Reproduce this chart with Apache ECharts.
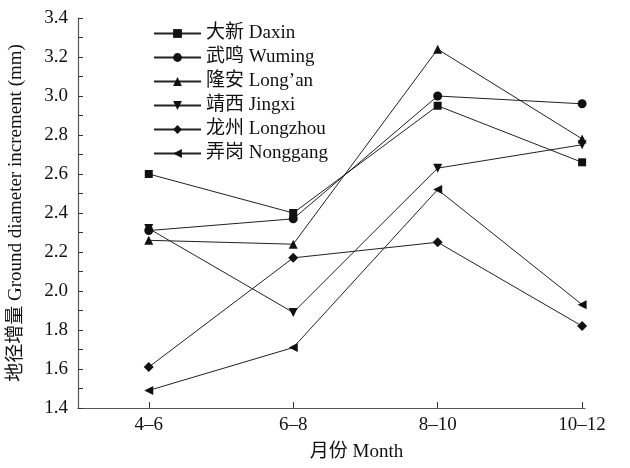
<!DOCTYPE html>
<html><head><meta charset="utf-8">
<script src="https://cdn.jsdelivr.net/npm/echarts@6/dist/echarts.min.js"></script>
<style>html,body{margin:0;padding:0;background:#fff}#c{width:630px;height:468px}</style>
</head><body><div id="c"></div>
<script>
const months = ['4–6', '6–8', '8–10', '10–12'];
const seriesNames = ['大新 Daxin', '武鸣 Wuming', '隆安 Long’an', '靖西 Jingxi', '龙州 Longzhou', '弄岗 Nonggang'];
const daxin = [2.60, 2.40, 2.95, 2.66];
const wuming = [2.31, 2.37, 3.00, 2.96];
const longan = [2.26, 2.24, 3.24, 2.78];
const jingxi = [2.32, 1.89, 2.63, 2.75];
const longzhou = [1.61, 2.17, 2.25, 1.82];
const nonggang = [1.49, 1.71, 2.52, 1.93];
const yTicks = [1.4, 1.6, 1.8, 2.0, 2.2, 2.4, 2.6, 2.8, 3.0, 3.2, 3.4];

const values = [daxin, wuming, longan, jingxi, longzhou, nonggang];
const symbols = ['rect', 'circle', 'triangle', 'triangle', 'diamond', 'triangle'];
const rotates = [0, 0, 0, 180, 0, 90];
const sizes = [8, 9, 9, 9, 10, 9];
const FONT = '"Liberation Serif", "Times New Roman", "Noto Sans CJK SC", serif';

const chart = echarts.init(document.getElementById('c'), null, {renderer: 'canvas'});
const series = values.map((arr, i) => ({
  name: seriesNames[i],
  type: 'line',
  data: arr.map((v, j) => [j, v]),
  symbol: symbols[i],
  symbolRotate: rotates[i],
  symbolSize: sizes[i],
  showAllSymbol: true,
  lineStyle: {color: '#222', width: 1},
  itemStyle: {color: '#111'},
  emphasis: {disabled: true},
  animation: false
}));

chart.setOption({
  backgroundColor: '#fff',
  animation: false,
  grid: {left: 78, right: 45, top: 18, bottom: 60, containLabel: false, outerBoundsMode: 'none'},
  legend: {
    orient: 'vertical', left: 148, top: 19,
    itemWidth: 47, itemHeight: 11, itemGap: 5,
    textStyle: {fontFamily: FONT, fontSize: 19, color: '#111'},
    data: seriesNames
  },
  xAxis: {
    type: 'value', min: -0.49, max: 3.02,
    name: '月份 Month', nameLocation: 'middle', nameGap: 35,
    nameTextStyle: {fontFamily: FONT, fontSize: 19, color: '#111', padding: [0, 0, 0, 50]},
    axisLine: {onZero: false, lineStyle: {color: '#555', width: 1.2}},
    axisTick: {inside: true, length: 6, customValues: [0, 1, 2, 3], lineStyle: {color: '#333'}},
    axisLabel: {customValues: [0, 1, 2, 3], formatter: v => months[Math.round(v)], fontFamily: FONT, fontSize: 19, color: '#111', margin: 8},
    splitLine: {show: false}
  },
  yAxis: {
    type: 'value', min: 1.4, max: 3.4, interval: 0.2,
    name: '地径增量 Ground diameter increment (mm)', nameLocation: 'middle', nameGap: 52,
    nameTextStyle: {fontFamily: FONT, fontSize: 19, color: '#111'},
    axisLine: {show: true, onZero: false, lineStyle: {color: '#555', width: 1.2}},
    axisTick: {inside: true, length: 5, lineStyle: {color: '#333'}},
    minorTick: {show: true, splitNumber: 2, length: 5, lineStyle: {color: '#333'}},
    axisLabel: {formatter: v => yTicks.find(t => Math.abs(t - v) < 1e-6) !== undefined ? v.toFixed(1) : '', fontFamily: FONT, fontSize: 19, color: '#111', margin: 10},
    splitLine: {show: false}
  },
  series: series
});
</script></body></html>
